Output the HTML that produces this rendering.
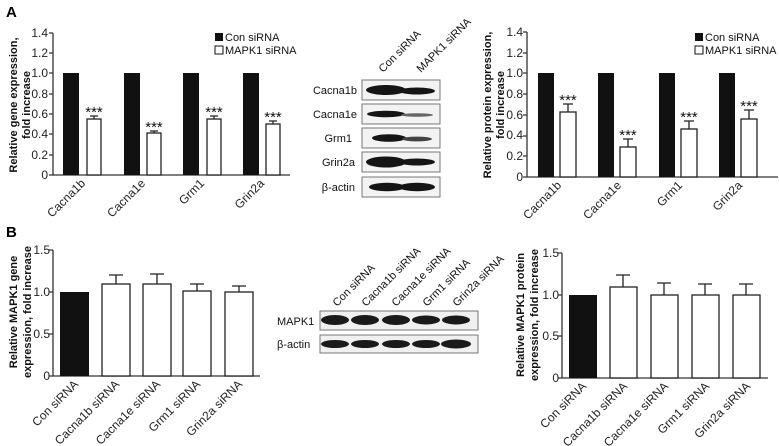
<!DOCTYPE html>
<html><head><meta charset="utf-8"><style>
html,body{margin:0;padding:0;background:#fff}
svg{display:block;font-family:"Liberation Sans",Arial,sans-serif}
</style></head><body>
<svg width="779" height="446" viewBox="0 0 779 446" xmlns="http://www.w3.org/2000/svg">
<style>
.t{font-size:11px;fill:#111}
.tk{font-size:12px;fill:#222}
.yl{font-size:11px;font-weight:bold;fill:#111}
.ax{stroke:#333;stroke-width:1.3;fill:none}
.wb{fill:#fff;stroke:#222;stroke-width:1.3}
.bb{fill:#111}
.eb{stroke:#222;stroke-width:1.3}
.st{font-size:15px;fill:#111}
</style>
<text x="6" y="17" font-size="15" font-weight="bold">A</text>
<text x="6" y="237" font-size="15" font-weight="bold">B</text>

<!-- A left -->
<g>
<path class="ax" d="M53,33 V175 H290"/>
<g class="tk" text-anchor="end">
<text x="48" y="179">0</text><text x="48" y="159">0.2</text><text x="48" y="138">0.4</text><text x="48" y="118">0.6</text><text x="48" y="98">0.8</text><text x="48" y="77">1.0</text><text x="48" y="57">1.2</text><text x="48" y="37">1.4</text>
</g>
<path class="ax" d="M49,175H53M49,155H53M49,134H53M49,114H53M49,94H53M49,73H53M49,53H53M49,33H53"/>
<rect class="bb" x="63" y="73" width="16" height="102"/>
<rect class="bb" x="124" y="73" width="16" height="102"/>
<rect class="bb" x="183" y="73" width="16" height="102"/>
<rect class="bb" x="243" y="73" width="16" height="102"/>
<path class="eb" d="M94,119V116M90,116H98M154,133V131M150,131H158M214,119V116M210,116H218M273,124V121M269,121H277"/>
<rect class="wb" x="87" y="119" width="14" height="56"/>
<rect class="wb" x="147" y="133" width="14" height="42"/>
<rect class="wb" x="207" y="119" width="14" height="56"/>
<rect class="wb" x="266" y="124" width="14" height="51"/>
<g class="st" text-anchor="middle"><text x="94" y="117">***</text><text x="154" y="132">***</text><text x="214" y="117">***</text><text x="273" y="122">***</text></g>
<rect x="215" y="33" width="8" height="8" fill="#111"/><text class="t" x="225" y="41">Con siRNA</text>
<rect x="215" y="46" width="8" height="8" fill="#fff" stroke="#111"/><text class="t" x="225" y="54">MAPK1 siRNA</text>
<g class="tk" text-anchor="end">
<text transform="translate(86,184) rotate(-45)">Cacna1b</text>
<text transform="translate(146,184) rotate(-45)">Cacna1e</text>
<text transform="translate(205,184) rotate(-45)">Grm1</text>
<text transform="translate(265,184) rotate(-45)">Grin2a</text>
</g>
<text class="yl" text-anchor="middle" transform="translate(17,105) rotate(-90)">Relative gene expression,</text>
<text class="yl" text-anchor="middle" transform="translate(30,105) rotate(-90)">fold increase</text>
</g>

<!-- A blot -->
<g>
<text class="t" transform="translate(383,73) rotate(-45)">Con siRNA</text>
<text class="t" transform="translate(421,73) rotate(-45)">MAPK1 siRNA</text>
<g class="t" text-anchor="end">
<text x="357" y="94">Cacna1b</text><text x="357" y="118">Cacna1e</text><text x="352" y="142">Grm1</text><text x="355" y="166">Grin2a</text><text x="355" y="191">β-actin</text>
</g>
<g fill="#f3f3f3" stroke="#777" stroke-width="1">
<rect x="362" y="80" width="78" height="20"/><rect x="362" y="104" width="78" height="20"/><rect x="362" y="128" width="78" height="20"/><rect x="362" y="152" width="78" height="20"/><rect x="362" y="177" width="78" height="20"/>
</g>
<g fill="#151515">
<ellipse cx="386" cy="90" rx="20" ry="5"/><ellipse cx="417" cy="91" rx="18" ry="3.5"/>
<ellipse cx="386" cy="114" rx="19" ry="3.2"/><ellipse cx="417" cy="115" rx="16" ry="1.8" fill="#666"/>
<ellipse cx="389" cy="138" rx="17" ry="3.8"/><ellipse cx="417" cy="139" rx="15" ry="2.4" fill="#444"/>
<ellipse cx="386" cy="162" rx="20" ry="5.5"/><ellipse cx="417" cy="162" rx="18" ry="3.5"/>
<ellipse cx="387" cy="187" rx="18" ry="4.2"/><ellipse cx="417" cy="187" rx="18" ry="4.2"/>
</g>
</g>

<!-- A right -->
<g>
<path class="ax" d="M527,32 V177 H778"/>
<g class="tk" text-anchor="end">
<text x="523" y="181">0</text><text x="523" y="160">0.2</text><text x="523" y="139">0.4</text><text x="523" y="119">0.6</text><text x="523" y="98">0.8</text><text x="523" y="77">1.0</text><text x="523" y="57">1.2</text><text x="523" y="36">1.4</text>
</g>
<path class="ax" d="M523,177H527M523,156H527M523,136H527M523,115H527M523,94H527M523,73H527M523,53H527M523,32H527"/>
<rect class="bb" x="538" y="73" width="16" height="104"/>
<rect class="bb" x="598" y="73" width="16" height="104"/>
<rect class="bb" x="659" y="73" width="16" height="104"/>
<rect class="bb" x="719" y="73" width="16" height="104"/>
<path class="eb" d="M568,112V104M563,104H573M628,147V139M623,139H633M689,129V121M684,121H694M749,119V110M744,110H754"/>
<rect class="wb" x="560" y="112" width="16" height="65"/>
<rect class="wb" x="620" y="147" width="16" height="30"/>
<rect class="wb" x="681" y="129" width="16" height="48"/>
<rect class="wb" x="741" y="119" width="16" height="58"/>
<g class="st" text-anchor="middle"><text x="568" y="105">***</text><text x="628" y="140">***</text><text x="689" y="122">***</text><text x="749" y="111">***</text></g>
<rect x="695" y="33" width="8" height="8" fill="#111"/><text class="t" x="705" y="41">Con siRNA</text>
<rect x="695" y="46" width="8" height="8" fill="#fff" stroke="#111"/><text class="t" x="705" y="54">MAPK1 siRNA</text>
<g class="tk" text-anchor="end">
<text transform="translate(562,186) rotate(-45)">Cacna1b</text>
<text transform="translate(622,186) rotate(-45)">Cacna1e</text>
<text transform="translate(683,186) rotate(-45)">Grm1</text>
<text transform="translate(743,186) rotate(-45)">Grin2a</text>
</g>
<text class="yl" text-anchor="middle" transform="translate(491,105) rotate(-90)">Relative protein expression,</text>
<text class="yl" text-anchor="middle" transform="translate(504,105) rotate(-90)">fold increase</text>
</g>

<!-- B left -->
<g>
<path class="ax" d="M53,250 V376 H260"/>
<g class="tk" text-anchor="end">
<text x="50" y="380">0</text><text x="50" y="338">0.5</text><text x="50" y="296">1.0</text><text x="50" y="254">1.5</text>
</g>
<path class="ax" d="M49,376H53M49,334H53M49,292H53M49,250H53"/>
<rect class="bb" x="60" y="292" width="29" height="84"/>
<path class="eb" d="M116,284V275M109,275H123M157,284V274M150,274H164M197,291V284M190,284H204M239,292V286M232,286H246"/>
<rect class="wb" x="102" y="284" width="28" height="92"/>
<rect class="wb" x="143" y="284" width="28" height="92"/>
<rect class="wb" x="183" y="291" width="28" height="85"/>
<rect class="wb" x="225" y="292" width="28" height="84"/>
<g class="tk" text-anchor="end">
<text transform="translate(79,385) rotate(-45)">Con siRNA</text>
<text transform="translate(120,385) rotate(-45)">Cacna1b siRNA</text>
<text transform="translate(161,385) rotate(-45)">Cacna1e siRNA</text>
<text transform="translate(201,385) rotate(-45)">Grm1 siRNA</text>
<text transform="translate(243,385) rotate(-45)">Grin2a siRNA</text>
</g>
<text class="yl" text-anchor="middle" transform="translate(17,312) rotate(-90)">Relative MAPK1 gene</text>
<text class="yl" text-anchor="middle" transform="translate(31,312) rotate(-90)">expression, fold increase</text>
</g>

<!-- B blot -->
<g>
<g class="t">
<text transform="translate(337,307) rotate(-45)">Con siRNA</text>
<text transform="translate(366,307) rotate(-45)">Cacna1b siRNA</text>
<text transform="translate(396,307) rotate(-45)">Cacna1e siRNA</text>
<text transform="translate(427,307) rotate(-45)">Grm1 siRNA</text>
<text transform="translate(457,307) rotate(-45)">Grin2a siRNA</text>
</g>
<text class="t" x="277" y="325">MAPK1</text>
<text class="t" x="277" y="348">β-actin</text>
<g fill="#f0f0f0" stroke="#777" stroke-width="1">
<rect x="320" y="311" width="158" height="19"/><rect x="320" y="335" width="158" height="18"/>
</g>
<g fill="#1a1a1a">
<ellipse cx="335" cy="320" rx="14" ry="5"/><ellipse cx="365" cy="320" rx="14" ry="5"/><ellipse cx="396" cy="320" rx="14" ry="5"/><ellipse cx="426" cy="320" rx="14" ry="4.5"/><ellipse cx="456" cy="320" rx="14" ry="4.5"/>
<ellipse cx="335" cy="344" rx="14" ry="4"/><ellipse cx="365" cy="344" rx="14" ry="4"/><ellipse cx="396" cy="344" rx="14" ry="4"/><ellipse cx="426" cy="344" rx="14" ry="4"/><ellipse cx="456" cy="344" rx="15" ry="4.5"/>
</g>
</g>

<!-- B right -->
<g>
<path class="ax" d="M562,253 V378 H768"/>
<g class="tk" text-anchor="end">
<text x="559" y="382">0</text><text x="559" y="340">0.5</text><text x="559" y="299">1.0</text><text x="559" y="257">1.5</text>
</g>
<path class="ax" d="M558,378H562M558,336H562M558,295H562M558,253H562"/>
<rect class="bb" x="569" y="295" width="28" height="83"/>
<path class="eb" d="M623,287V275M616,275H630M664,295V283M657,283H671M705,295V284M698,284H712M746,295V284M739,284H753"/>
<rect class="wb" x="610" y="287" width="27" height="91"/>
<rect class="wb" x="651" y="295" width="27" height="83"/>
<rect class="wb" x="692" y="295" width="27" height="83"/>
<rect class="wb" x="733" y="295" width="27" height="83"/>
<g class="tk" text-anchor="end">
<text transform="translate(587,387) rotate(-45)">Con siRNA</text>
<text transform="translate(628,387) rotate(-45)">Cacna1b siRNA</text>
<text transform="translate(669,387) rotate(-45)">Cacna1e siRNA</text>
<text transform="translate(710,387) rotate(-45)">Grm1 siRNA</text>
<text transform="translate(751,387) rotate(-45)">Grin2a siRNA</text>
</g>
<text class="yl" text-anchor="middle" transform="translate(524,315) rotate(-90)">Relative MAPK1 protein</text>
<text class="yl" text-anchor="middle" transform="translate(538,315) rotate(-90)">expression, fold increase</text>
</g>
</svg>
</body></html>
